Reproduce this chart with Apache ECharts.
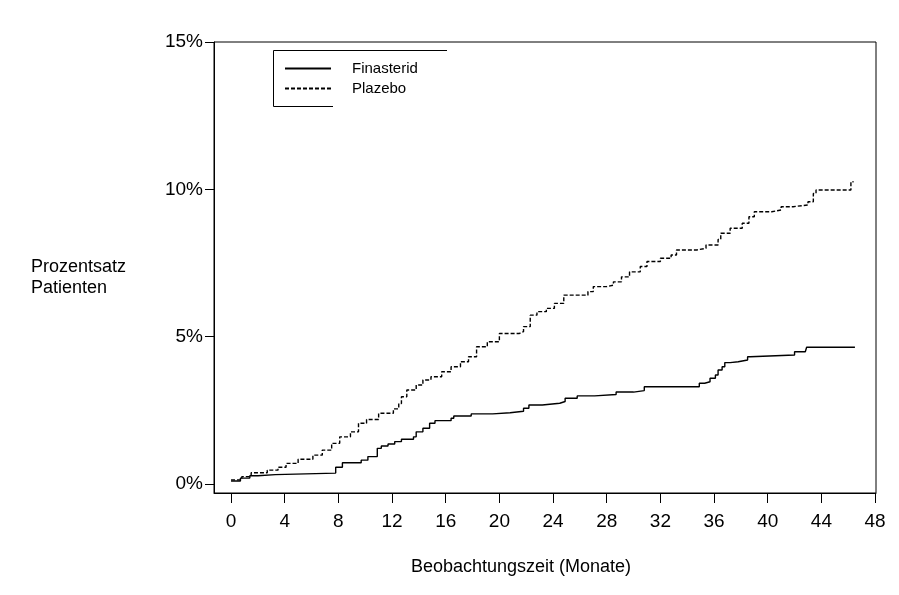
<!DOCTYPE html>
<html>
<head>
<meta charset="utf-8">
<script src="https://cdn.jsdelivr.net/npm/echarts@6/dist/echarts.min.js"></script>
<style>
html,body{margin:0;padding:0;background:#fff;}
#chart{width:899px;height:595px;}
</style>
</head>
<body>
<div id="chart"></div>
<script>
// Months (x) and cumulative percentage (y) at each step of the Kaplan-Meier style curves
const finasteridMonths = [0,0.7,1.4,2.0,3.3,7.8,8.3,9.7,10.2,10.9,11.2,11.7,12.2,12.7,13.6,13.8,14.3,14.8,15.2,16.4,16.6,17.9,19.5,20.8,21.8,22.2,23.2,24.5,24.9,25.8,27.1,28.7,30.0,30.8,34.9,35.3,35.7,36.1,36.3,36.6,36.8,37.2,37.8,38.5,38.7,42.0,42.8,42.9,46.5];
const finasteridPct    = [0.10,0.20,0.28,0.32,0.37,0.57,0.72,0.81,0.93,1.21,1.29,1.36,1.44,1.52,1.60,1.77,1.89,2.06,2.15,2.23,2.31,2.38,2.42,2.47,2.57,2.68,2.74,2.80,2.91,2.99,3.04,3.12,3.17,3.30,3.42,3.47,3.59,3.70,3.87,3.98,4.12,4.15,4.21,4.32,4.38,4.49,4.55,4.64,4.64];
const plazeboMonths = [0,0.8,1.5,2.7,3.5,4.1,5.0,6.1,6.8,7.5,8.1,8.9,9.5,10.1,11.0,12.1,12.5,12.7,13.1,13.8,14.3,14.9,15.7,16.4,17.1,17.7,18.3,19.1,20.0,21.5,21.8,22.3,22.8,23.5,24.1,24.8,26.6,27.0,28.0,28.5,29.1,29.7,30.5,31.0,32.0,32.8,33.2,34.7,35.4,36.3,36.5,37.2,38.1,38.6,39.0,40.3,41.0,41.9,43.0,43.4,43.6,46.2,46.4];
const plazeboPct    = [0.14,0.25,0.38,0.47,0.57,0.70,0.84,0.98,1.15,1.38,1.60,1.77,2.06,2.19,2.40,2.55,2.73,2.96,3.19,3.36,3.53,3.64,3.81,3.98,4.15,4.32,4.66,4.83,5.11,5.17,5.34,5.73,5.85,5.96,6.13,6.41,6.53,6.70,6.75,6.86,7.03,7.20,7.38,7.55,7.66,7.77,7.94,8.00,8.11,8.30,8.51,8.68,8.85,9.07,9.24,9.30,9.41,9.47,9.58,9.86,9.98,10.26,10.26];
const xTicks = [0,4,8,12,16,20,24,28,32,36,40,44,48];
const yTicks = [0,5,10,15];
const seriesNames = ['Finasterid','Plazebo'];
const xTitle = 'Beobachtungszeit (Monate)';
const yTitle = 'Prozentsatz\nPatienten';

const pairs = (xs, ys) => xs.map((x, i) => [x, ys[i]]);
const FONT = '"Liberation Sans", Arial, sans-serif';

const chart = echarts.init(document.getElementById('chart'), null, {renderer: 'canvas'});
chart.setOption({
  animation: false,
  backgroundColor: '#fff',
  grid: {left: 214, right: 23, top: 42, bottom: 102, show: true, borderColor: '#000', borderWidth: 1},
  legend: {
    orient: 'vertical', left: 284, top: 61, padding: 0, itemGap: 5,
    itemWidth: 46, itemHeight: 14, selectedMode: false,
    data: seriesNames,
    itemStyle: {opacity: 0, borderWidth: 0},
    textStyle: {fontFamily: FONT, fontSize: 15, color: '#000', padding: [3,0,0,16]}
  },
  xAxis: {
    type: 'value', min: -1.27, max: 48.07,
    name: xTitle, nameLocation: 'middle', nameGap: 65,
    nameTextStyle: {fontFamily: FONT, fontSize: 18, color: '#000', padding: [0,48,0,0]},
    axisLine: {show: true, onZero: false, lineStyle: {color: '#000', width: 1}},
    axisTick: {show: true, inside: false, length: 10, customValues: xTicks, lineStyle: {color: '#000', width: 1}},
    axisLabel: {show: true, customValues: xTicks, margin: 19, fontFamily: FONT, fontSize: 19, color: '#000'},
    splitLine: {show: false}
  },
  yAxis: {
    type: 'value', min: -0.305, max: 15,
    axisLine: {show: true, onZero: false, lineStyle: {color: '#000', width: 1}},
    axisTick: {show: true, inside: false, length: 9, customValues: yTicks, lineStyle: {color: '#000', width: 1}},
    axisLabel: {show: true, customValues: yTicks, margin: 11, fontFamily: FONT, fontSize: 19, color: '#000', formatter: v => v + '%'},
    splitLine: {show: false}
  },
  graphic: [
    {type: 'polyline', shape: {points: [[447, 50.5], [273.5, 50.5], [273.5, 106.5], [333, 106.5]]}, style: {stroke: '#000', lineWidth: 1, fill: null}, silent: true},
    {type: 'text', left: 31, top: 257, style: {text: yTitle, font: '18px ' + FONT, fill: '#000', lineHeight: 21}, silent: true}
  ],
  series: [
    {name: seriesNames[0], type: 'line', step: 'end', showSymbol: false, symbol: 'none',
     data: pairs(finasteridMonths, finasteridPct),
     lineStyle: {color: '#000', width: 1.4, type: 'solid'}, itemStyle: {color: '#000'}},
    {name: seriesNames[1], type: 'line', step: 'end', showSymbol: false, symbol: 'none',
     data: pairs(plazeboMonths, plazeboPct),
     lineStyle: {color: '#000', width: 1.4, type: [4, 2]}, itemStyle: {color: '#000'}}
  ]
});
</script>
</body>
</html>
